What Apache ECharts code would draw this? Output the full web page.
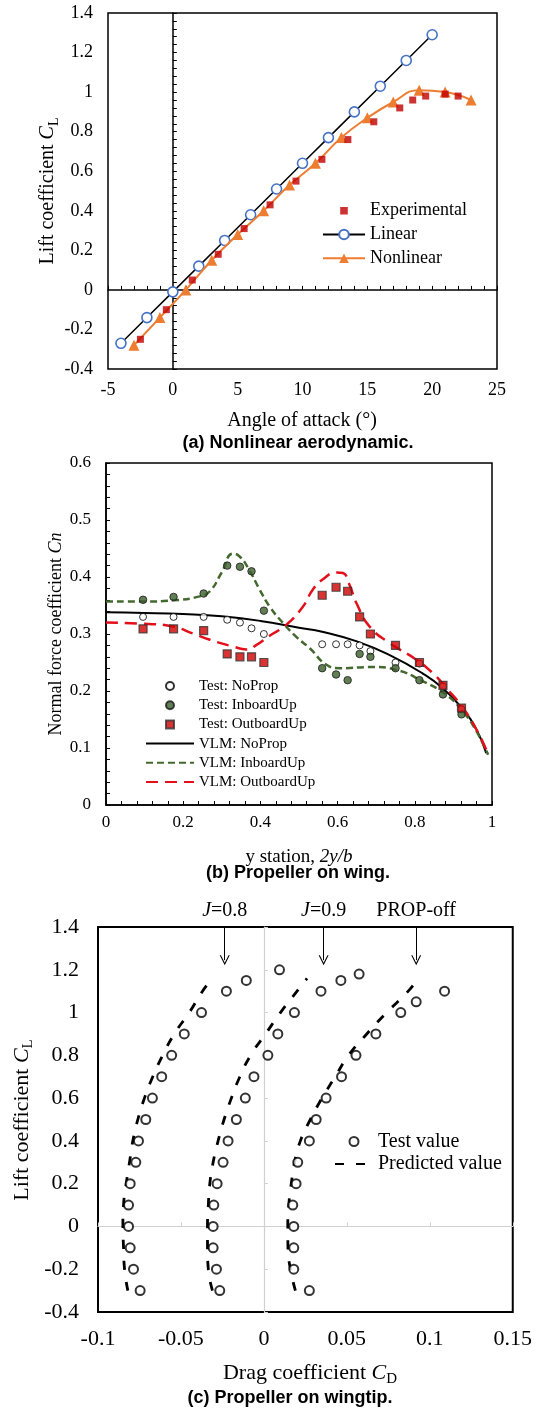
<!DOCTYPE html>
<html><head><meta charset="utf-8">
<script src="https://cdn.jsdelivr.net/npm/echarts@6/dist/echarts.min.js"></script>
<style>html,body{margin:0;padding:0;background:#fff}#c{width:535px;height:1409px}</style>
</head><body><div id="c"></div>
<script>
// ---------- Panel (a): Nonlinear aerodynamic ----------
const aoaLinear = [-4,-2,0,2,4,6,8,10,12,14,16,18,20];
const clLinear  = [-0.27,-0.14,-0.01,0.12,0.25,0.38,0.51,0.64,0.77,0.90,1.03,1.16,1.29];
const aoaNonlinear = [-3,-1,1,3,5,7,9,11,13,15,17,19,21,23];
const clNonlinear  = [-0.28,-0.14,0.00,0.15,0.28,0.40,0.53,0.64,0.77,0.87,0.95,1.01,1.00,0.96];
const aoaExp = [-2.5,-0.5,1.5,3.5,5.5,7.5,9.5,11.5,13.5,15.5,17.5,18.5,19.5,21,22];
const clExp  = [-0.25,-0.10,0.05,0.18,0.31,0.43,0.55,0.66,0.76,0.85,0.92,0.96,0.98,0.99,0.98];

// ---------- Panel (b): Propeller on wing ----------
const yStation = [0.096,0.175,0.253,0.314,0.347,0.377,0.409,0.560,0.596,0.626,0.657,0.685,0.750,0.812,0.873,0.921];
const cnTestNoProp   = [0.330,0.330,0.330,0.325,0.320,0.310,0.300,0.282,0.282,0.282,0.280,0.270,0.250,0.248,0.208,0.168];
const cnTestInboard  = [0.360,0.365,0.371,0.420,0.418,0.410,0.341,0.240,0.229,0.219,0.265,0.260,0.240,0.219,0.194,0.159];
const cnTestOutboard = [0.309,0.309,0.306,0.265,0.260,0.260,0.250,0.368,0.382,0.375,0.330,0.300,0.280,0.250,0.210,0.170];
const vlmNoPropX  = [0,0.1,0.2,0.3,0.4,0.5,0.56,0.65,0.735,0.82,0.87,0.925,0.96,0.985];
const vlmNoPropCn = [0.338,0.337,0.335,0.331,0.323,0.311,0.304,0.287,0.263,0.231,0.206,0.167,0.132,0.091];
const vlmInboardX  = [0,0.096,0.174,0.243,0.269,0.299,0.329,0.346,0.368,0.398,0.424,0.459,0.493,0.528,0.571,0.605,0.692,0.752,0.821,0.882,0.925,0.96,0.99];
const vlmInboardCn = [0.357,0.357,0.359,0.366,0.375,0.407,0.441,0.436,0.416,0.378,0.348,0.319,0.295,0.275,0.246,0.240,0.242,0.237,0.217,0.193,0.164,0.129,0.088];
const vlmOutboardX  = [0,0.096,0.174,0.225,0.269,0.329,0.364,0.39,0.424,0.467,0.51,0.536,0.562,0.597,0.614,0.631,0.649,0.683,0.735,0.804,0.847,0.882,0.925,0.96,0.985];
const vlmOutboardCn = [0.320,0.318,0.313,0.301,0.290,0.278,0.273,0.281,0.297,0.316,0.348,0.378,0.396,0.408,0.407,0.386,0.354,0.313,0.284,0.255,0.231,0.205,0.170,0.132,0.097];

// ---------- Panel (c): Propeller on wingtip ----------
const clTest08 = [-0.3,-0.2,-0.1,0,0.1,0.2,0.3,0.4,0.5,0.6,0.7,0.8,0.9,1.0,1.1,1.15,1.2];
const cdTest08 = [-0.0746,-0.0786,-0.0806,-0.0816,-0.0816,-0.0806,-0.0772,-0.0756,-0.0712,-0.0672,-0.0616,-0.0556,-0.048,-0.0376,-0.0226,-0.0106,0.0094];
const clTest09 = [-0.3,-0.2,-0.1,0,0.1,0.2,0.3,0.4,0.5,0.6,0.7,0.8,0.9,1.0,1.1,1.15,1.18];
const cdTest09 = [-0.0266,-0.0286,-0.0306,-0.0306,-0.0302,-0.0282,-0.0246,-0.0216,-0.0166,-0.0112,-0.006,0.0024,0.0084,0.0184,0.0344,0.0464,0.0574];
const clTestOff = [-0.3,-0.2,-0.1,0,0.1,0.2,0.3,0.4,0.5,0.6,0.7,0.8,0.9,1.0,1.05,1.1];
const cdTestOff = [0.0274,0.018,0.018,0.018,0.0174,0.0194,0.0204,0.0274,0.0315,0.0375,0.0468,0.0555,0.0675,0.0825,0.0918,0.1089];
const clPred = [-0.3,-0.2,-0.1,0,0.1,0.2,0.3,0.4,0.5,0.6,0.7,0.8,0.9,1.0,1.1,1.16];
const cdPred08  = [-0.082,-0.084,-0.0846,-0.085,-0.0846,-0.083,-0.081,-0.079,-0.076,-0.072,-0.067,-0.061,-0.054,-0.045,-0.037,-0.031];
const cdPred09  = [-0.031,-0.0335,-0.034,-0.034,-0.0335,-0.0326,-0.0306,-0.0276,-0.024,-0.0196,-0.0145,-0.008,0.001,0.010,0.020,0.026];
const cdPredOff = [0.019,0.016,0.0145,0.0144,0.015,0.0165,0.0185,0.022,0.028,0.035,0.043,0.051,0.062,0.074,0.087,0.093];
const annotNames = ['J=0.8','J=0.9','PROP-off'];
const annotCd = [-0.0236, 0.036, 0.0918];
const annotTopCl = 1.4, annotTipCl = 1.245;

// ---------- tick settings ----------
const aXTicks = {min:-5, max:25, interval:5};
const aYTicks = {min:-0.4, max:1.4, interval:0.2};
const bXTicks = {min:0, max:1, interval:0.2};
const bYTicks = {min:0, max:0.6, interval:0.1};
const cXTicks = {min:-0.1, max:0.15, interval:0.05};
const cYTicks = {min:-0.4, max:1.4, interval:0.2};

const SERIF = "'Liberation Serif','Times New Roman',serif";
const SANS = "'Liberation Sans',Arial,sans-serif";
const pairs = (xs, ys) => xs.map((x, i) => [x, ys[i]]);

function labelAxis(grid, t, fs, margin, extra) {
  return Object.assign({
    type:'value', gridIndex:grid, min:t.min, max:t.max, interval:t.interval,
    axisLine:{show:false, onZero:false}, axisTick:{show:false}, splitLine:{show:false},
    axisLabel:{color:'#000', fontFamily:SERIF, fontSize:fs, margin:margin}
  }, extra || {});
}
function zeroAxis(grid, t, pos, color, tickInterval, minorSplit, lineW) {
  const ax = {
    type:'value', gridIndex:grid, min:t.min, max:t.max, interval:tickInterval || t.interval, position:pos,
    axisLine:{show:true, onZero:true, lineStyle:{color:color, width:lineW}},
    axisTick:{show:true, inside:true, length:4, lineStyle:{color:color, width:1}},
    axisLabel:{show:false}, splitLine:{show:false}
  };
  if (minorSplit) ax.minorTick = {show:true, splitNumber:minorSplit, length:4, lineStyle:{color:color, width:1}};
  return ax;
}
function boxAxis(grid, t, fs, margin, pos) {
  return {
    type:'value', gridIndex:grid, min:t.min, max:t.max, interval:t.interval, position:pos,
    axisLine:{show:true, onZero:false, lineStyle:{color:'#000', width:1.5}},
    axisTick:{show:true, inside:true, length:4, lineStyle:{color:'#000'}},
    minorTick:{show:true, splitNumber:5, length:4, lineStyle:{color:'#000'}},
    splitLine:{show:false},
    axisLabel:{color:'#000', fontFamily:SERIF, fontSize:fs, margin:margin}
  };
}

const chevron = 'path://M0,10 L5,0 L10,10 L8.8,10 L5,2.4 L1.2,10 Z';
const squareIcon = 'path://M0,0 L10,0 L10,10 L0,10 Z';
const smallSquareIcon = 'path://M0,0 L0.01,0 M12,12 L12.01,12 M2.2,2.2 L9.8,2.2 L9.8,9.8 L2.2,9.8 Z';
const circleIcon = 'path://M5,0 A5,5 0 1,1 4.99,0 Z';

function gtext(x, y, text, fs, rich, rot, weight, family) {
  return {
    type:'text', x:x, y:y, rotation:rot || 0, silent:true,
    style:{text:text, fill:'#000', fontFamily:family || SERIF, fontSize:fs, fontWeight:weight || 'normal',
      align:'center', verticalAlign:'middle', rich:rich}
  };
}
function titleRich(fs) {
  return {
    n:{fontFamily:SERIF, fontSize:fs, lineHeight:fs+6, verticalAlign:'middle', fill:'#000'},
    i:{fontFamily:SERIF, fontSize:fs, fontStyle:'italic', lineHeight:fs+6, verticalAlign:'middle', fill:'#000'},
    s:{fontFamily:SERIF, fontSize:Math.round(fs*0.68), lineHeight:Math.round(fs*0.68), verticalAlign:'bottom', fill:'#000'}
  };
}

const hidSym = {opacity:0};
function legendBase(extra, fs) {
  return Object.assign({padding:0, selectedMode:false, symbolKeepAspect:true, orient:'vertical',
    textStyle:{fontFamily:SERIF, fontSize:fs, color:'#000', lineHeight:fs}}, extra);
}
const predDash = {color:'#000', width:2.8, type:[9,12]};

const option = {
  animation:false,
  backgroundColor:'#fff',
  grid:[
    {left:108, top:13, width:389, height:356, show:true, borderColor:'#000', borderWidth:1.5},
    {left:106, top:463, width:386, height:342, show:true, borderColor:'#000', borderWidth:1.5},
    {left:98, top:927, width:415, height:385, show:true, borderColor:'#000', borderWidth:2}
  ],
  xAxis:[
    labelAxis(0, aXTicks, 18, 12, {position:'bottom'}),
    zeroAxis(0, aXTicks, 'bottom', '#000', 1, 0, 1.5),
    boxAxis(1, bXTicks, 17, 9, 'bottom'),
    labelAxis(2, cXTicks, 22, 16, {position:'bottom'}),
    zeroAxis(2, cXTicks, 'bottom', '#d0d0d0', 0.05, 0, 1.2)
  ],
  yAxis:[
    labelAxis(0, aYTicks, 18, 15, {position:'left'}),
    zeroAxis(0, aYTicks, 'left', '#000', 0.2, 5, 1.5),
    boxAxis(1, bYTicks, 17, 15, 'left'),
    labelAxis(2, cYTicks, 22, 19, {position:'left'}),
    zeroAxis(2, cYTicks, 'left', '#d0d0d0', 0.2, 0, 1.2)
  ],
  legend:[
    legendBase({data:[{name:'Experimental', icon:smallSquareIcon}, 'Linear', 'Nonlinear'],
     left:322, top:201.7, itemWidth:42, itemHeight:12, itemGap:5.8}, 18),
    legendBase({data:['Test: NoProp','Test: InboardUp',{name:'Test: OutboardUp', icon:squareIcon},
           {name:'VLM: NoProp', itemStyle:hidSym},{name:'VLM: InboardUp', itemStyle:hidSym},{name:'VLM: OutboardUp', itemStyle:hidSym}],
     left:145, top:678.5, itemWidth:48, itemHeight:8, itemGap:4.2}, 15),
    legendBase({data:[{name:'Test value', icon:circleIcon}, {name:'Predicted value', itemStyle:hidSym}],
     left:334, top:1131.5, itemWidth:38, itemHeight:9, itemGap:2.6}, 20)
  ],
  series:[
    // (a)
    {name:'Linear', type:'line', xAxisIndex:0, yAxisIndex:0, data:pairs(aoaLinear, clLinear),
     lineStyle:{color:'#000', width:1.5}, symbol:'circle', symbolSize:10,
     itemStyle:{color:'#fff', borderColor:'#4472C4', borderWidth:1.6}, z:3},
    {name:'Nonlinear', type:'line', xAxisIndex:0, yAxisIndex:0, data:pairs(aoaNonlinear, clNonlinear), smooth:true,
     lineStyle:{color:'#ED7D31', width:2}, symbol:'triangle', symbolSize:11,
     itemStyle:{color:'#ED7D31'}, z:4},
    {name:'Experimental', type:'scatter', xAxisIndex:0, yAxisIndex:0, data:pairs(aoaExp, clExp),
     symbol:'rect', symbolSize:7, itemStyle:{color:'#C00000'}, z:5},
    // (b) lines
    {name:'VLM: NoProp', type:'line', xAxisIndex:2, yAxisIndex:2, data:pairs(vlmNoPropX, vlmNoPropCn), smooth:true,
     symbol:'none', showSymbol:false, lineStyle:{color:'#000', width:2}, itemStyle:{color:'#000'}, z:3},
    {name:'VLM: InboardUp', type:'line', xAxisIndex:2, yAxisIndex:2, data:pairs(vlmInboardX, vlmInboardCn), smooth:true,
     symbol:'none', showSymbol:false, lineStyle:{color:'#44692F', width:2.5, type:[7,4]}, itemStyle:{color:'#44692F'}, z:3},
    {name:'VLM: OutboardUp', type:'line', xAxisIndex:2, yAxisIndex:2, data:pairs(vlmOutboardX, vlmOutboardCn), smooth:true,
     symbol:'none', showSymbol:false, lineStyle:{color:'#E3101B', width:2.5, type:[12,7]}, itemStyle:{color:'#E3101B'}, z:3},
    // (b) points
    {name:'Test: NoProp', type:'scatter', xAxisIndex:2, yAxisIndex:2, data:pairs(yStation, cnTestNoProp),
     symbol:'circle', symbolSize:7, itemStyle:{color:'#fff', borderColor:'#000', borderWidth:1}, z:4},
    {name:'Test: InboardUp', type:'scatter', xAxisIndex:2, yAxisIndex:2, data:pairs(yStation, cnTestInboard),
     symbol:'circle', symbolSize:7.5, itemStyle:{color:'#3B5E2B', borderColor:'#1a1a1a', borderWidth:1}, z:5},
    {name:'Test: OutboardUp', type:'scatter', xAxisIndex:2, yAxisIndex:2, data:pairs(yStation, cnTestOutboard),
     symbol:'rect', symbolSize:8, itemStyle:{color:'#D00000', borderColor:'#333', borderWidth:1.2}, z:6},
    // (c) predicted
    {name:'Predicted value', type:'line', xAxisIndex:3, yAxisIndex:3, data:pairs(cdPred08, clPred), smooth:true,
     symbol:'none', showSymbol:false, lineStyle:predDash, itemStyle:{color:'#000'}, z:3,
     markLine:{silent:true, symbol:['none', chevron], symbolSize:10,
       lineStyle:{color:'#000', width:1, type:'solid'},
       label:{show:true, position:'start', distance:6, color:'#000', fontFamily:SERIF, fontSize:20,
         formatter:p => p.name.replace(/^J/, '{i|J}'),
         rich:{i:{fontFamily:SERIF, fontSize:20, fontStyle:'italic', color:'#000'}}},
       data: annotNames.map((n, k) => [{name:n, coord:[annotCd[k], annotTopCl]}, {coord:[annotCd[k], annotTipCl]}])}},
    {name:'Predicted value', type:'line', xAxisIndex:3, yAxisIndex:3, data:pairs(cdPred09, clPred), smooth:true,
     symbol:'none', showSymbol:false, lineStyle:predDash, itemStyle:{color:'#000'}, z:3},
    {name:'Predicted value', type:'line', xAxisIndex:3, yAxisIndex:3, data:pairs(cdPredOff, clPred), smooth:true,
     symbol:'none', showSymbol:false, lineStyle:predDash, itemStyle:{color:'#000'}, z:3},
    // (c) test
    {name:'Test value', type:'scatter', xAxisIndex:3, yAxisIndex:3, data:pairs(cdTest08, clTest08),
     symbol:'circle', symbolSize:9, itemStyle:{color:'#fff', borderColor:'#000', borderWidth:2}, z:4},
    {name:'Test value', type:'scatter', xAxisIndex:3, yAxisIndex:3, data:pairs(cdTest09, clTest09),
     symbol:'circle', symbolSize:9, itemStyle:{color:'#fff', borderColor:'#000', borderWidth:2}, z:4},
    {name:'Test value', type:'scatter', xAxisIndex:3, yAxisIndex:3, data:pairs(cdTestOff, clTestOff),
     symbol:'circle', symbolSize:9, itemStyle:{color:'#fff', borderColor:'#000', borderWidth:2}, z:4}
  ],
  graphic:[
    gtext(302, 421, '{n|Angle of attack (°)}', 20, titleRich(20)),
    gtext(48, 191, '{n|Lift coefficient }{i|C}{s|L}', 20, titleRich(20), Math.PI/2),
    gtext(298, 443, '(a) Nonlinear aerodynamic.', 18, null, 0, 'bold', SANS),
    gtext(299, 857, '{n|y station, }{i|2y/b}', 19, titleRich(19)),
    gtext(56, 634, '{n|Normal force coefficient }{i|Cn}', 18, titleRich(18), Math.PI/2),
    gtext(298, 873, '(b) Propeller on wing.', 18, null, 0, 'bold', SANS),
    gtext(310, 1373, '{n|Drag coefficient }{i|C}{s|D}', 22, titleRich(22)),
    gtext(22, 1120, '{n|Lift coefficient }{i|C}{s|L}', 22, titleRich(22), Math.PI/2),
    gtext(290, 1398, '(c) Propeller on wingtip.', 18, null, 0, 'bold', SANS)
  ]
};
const chart = echarts.init(document.getElementById('c'), null, {renderer:'canvas'});
chart.setOption(option);
</script>
</body></html>
